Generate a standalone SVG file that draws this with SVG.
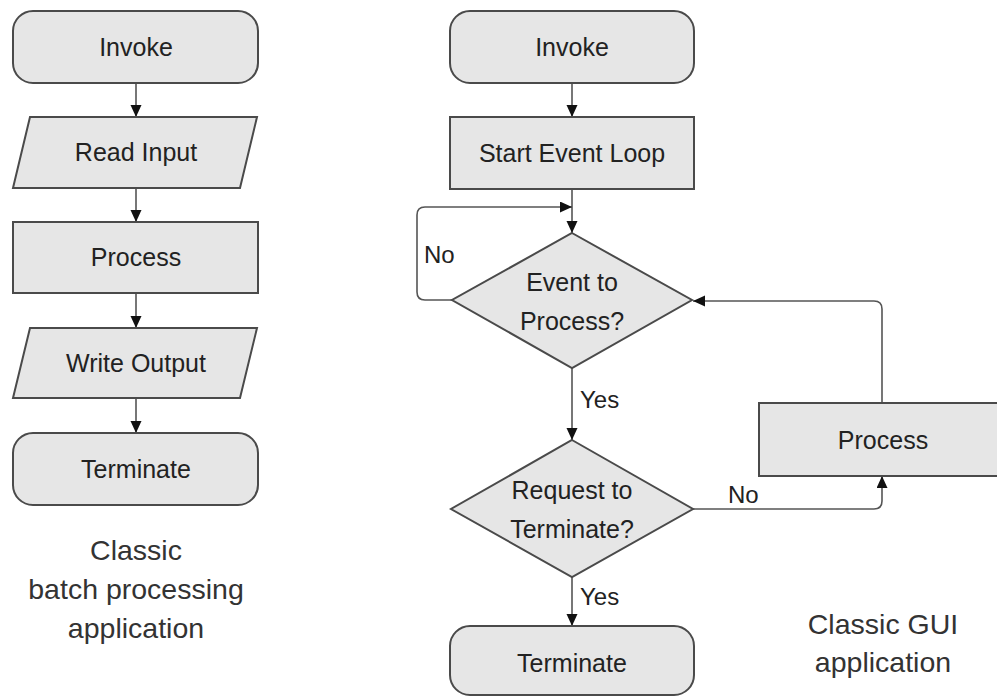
<svg xmlns="http://www.w3.org/2000/svg" width="997" height="696" viewBox="0 0 997 696">
<defs>
<marker id="arr" markerUnits="userSpaceOnUse" markerWidth="12" markerHeight="12" refX="12" refY="5.5" orient="auto">
<path d="M0,0 L12,5.5 L0,11 z" fill="#111"/>
</marker>
<style>
.shape{fill:#e6e6e6;stroke:#4a4a4a;stroke-width:2}
.t{font-family:"Liberation Sans",Arial,sans-serif;font-size:25px;fill:#222;text-anchor:middle}
.lbl{font-family:"Liberation Sans",Arial,sans-serif;font-size:24px;fill:#222}
.cap{font-family:"Liberation Sans",Arial,sans-serif;font-size:28.5px;fill:#333;text-anchor:middle}
.c{fill:none;stroke:#555;stroke-width:1.6}
</style>
</defs>
<rect width="997" height="696" fill="#fff"/>

<g id="connectors">
<path class="c" d="M136,83 V117" marker-end="url(#arr)"/>
<path class="c" d="M136,188 V222" marker-end="url(#arr)"/>
<path class="c" d="M136,293 V328" marker-end="url(#arr)"/>
<path class="c" d="M136,398 V433" marker-end="url(#arr)"/>
<path class="c" d="M572,83 V117" marker-end="url(#arr)"/>
<path class="c" d="M572,189 V233" marker-end="url(#arr)"/>
<path class="c" d="M452,300 H425 Q417,300 417,292 V215 Q417,207 425,207 H572" marker-end="url(#arr)"/>
<path class="c" d="M572,368 V440" marker-end="url(#arr)"/>
<path class="c" d="M572,577 V626" marker-end="url(#arr)"/>
<path class="c" d="M693,509 H874 Q882,509 882,501 V476" marker-end="url(#arr)"/>
<path class="c" d="M882,403 V309 Q882,301 874,301 H693" marker-end="url(#arr)"/>
<text class="lbl" x="424" y="263">No</text>
<text class="lbl" x="580" y="408">Yes</text>
<text class="lbl" x="580" y="605">Yes</text>
<text class="lbl" x="728" y="503">No</text>
</g>

<g id="batch-invoke">
<rect class="shape" x="13" y="11" width="245" height="72" rx="20"/>
<text class="t" x="136" y="56">Invoke</text>
</g>
<g id="batch-read">
<path class="shape" d="M30,117 H257 L240,188 H13 Z"/>
<text class="t" x="136" y="161">Read Input</text>
</g>
<g id="batch-process">
<rect class="shape" x="13" y="222" width="245" height="71"/>
<text class="t" x="136" y="266">Process</text>
</g>
<g id="batch-write">
<path class="shape" d="M30,328 H257 L240,398 H13 Z"/>
<text class="t" x="136" y="372">Write Output</text>
</g>
<g id="batch-terminate">
<rect class="shape" x="13" y="433" width="245" height="72" rx="20"/>
<text class="t" x="136" y="478">Terminate</text>
</g>
<g id="batch-caption">
<text class="cap" x="136" y="560">Classic</text>
<text class="cap" x="136" y="599">batch processing</text>
<text class="cap" x="136" y="638">application</text>
</g>

<g id="gui-invoke">
<rect class="shape" x="450" y="11" width="244" height="72" rx="20"/>
<text class="t" x="572" y="56">Invoke</text>
</g>
<g id="gui-start">
<rect class="shape" x="450" y="117" width="244" height="72"/>
<text class="t" x="572" y="162">Start Event Loop</text>
</g>
<g id="gui-event">
<path class="shape" d="M572,233 L692,300 L572,368 L452,300 Z"/>
<text class="t" x="572" y="291">Event to</text>
<text class="t" x="572" y="330">Process?</text>
</g>
<g id="gui-request">
<path class="shape" d="M572,440 L693,509 L572,577 L451,509 Z"/>
<text class="t" x="572" y="499">Request to</text>
<text class="t" x="572" y="538">Terminate?</text>
</g>
<g id="gui-terminate">
<rect class="shape" x="450" y="626" width="244" height="69" rx="20"/>
<text class="t" x="572" y="672">Terminate</text>
</g>
<g id="gui-process">
<rect class="shape" x="759" y="403" width="250" height="73"/>
<text class="t" x="883" y="449">Process</text>
</g>
<g id="gui-caption">
<text class="cap" x="883" y="634">Classic GUI</text>
<text class="cap" x="883" y="672">application</text>
</g>
</svg>
